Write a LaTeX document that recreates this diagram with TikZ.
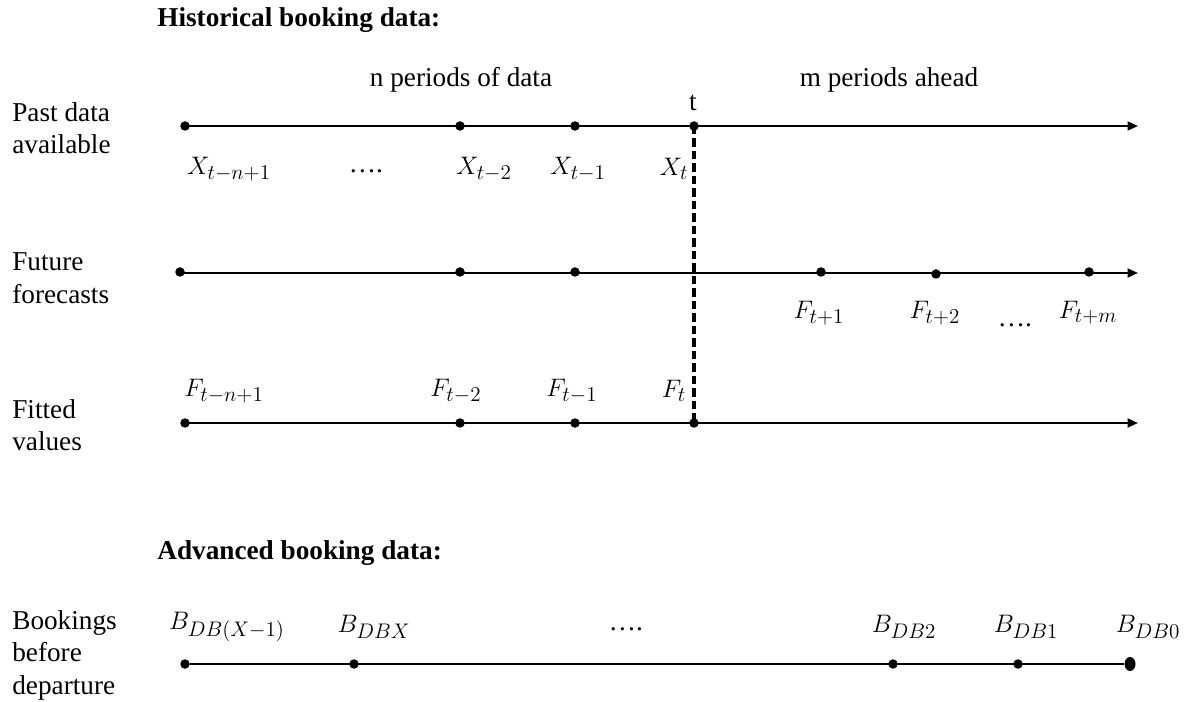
\documentclass[tikz,border=0pt]{standalone}
\usepackage{fontspec}
\setmainfont{Liberation Serif}
\DeclareMathSizes{15.5}{15}{11.5}{9}
\usetikzlibrary{arrows.meta,positioning,shapes.geometric}

\tikzset{
  dot/.style={circle,fill=black,inner sep=0pt,minimum size=0.19cm},
  bigdot/.style={ellipse,fill=black,inner sep=0pt,minimum width=0.22cm,minimum height=0.28cm},
  axis/.style={line width=1.1pt,-{Triangle[length=0.21cm,width=0.18cm]}},
  plain/.style={line width=1.1pt},
  cut/.style={line width=1.8pt,dash pattern=on 0.17cm off 0.08cm},
  rowname/.style={anchor=west,align=left,inner sep=0pt,font=\fontsize{15.5}{18.5}\selectfont},
  lbl/.style={inner sep=0pt,font=\fontsize{15.5}{18.5}\selectfont},
  head/.style={anchor=west,inner sep=0pt,font=\fontsize{15.5}{18.5}\selectfont\bfseries},
}

\begin{document}
\begin{tikzpicture}[x=0.02cm,y=-0.02cm]
\path[use as bounding box] (0,0) rectangle (1190,702);

% headings
\node[head] (hist) at (157,20) {Historical\ booking\ data:};
\node[head] (adv) at (157,553) {Advanced\ booking\ data:};
\node[lbl] (nper) at (461,80) {n periods\ of data};
\node[lbl] (mper) at (889,80) {m periods\ ahead};

% row names
\node[rowname] (rpast) at (12,128) {Past data\\available};
\node[rowname] (rfut) at (12,278) {Future\\forecasts};
\node[rowname] (rfit) at (12,425) {Fitted\\values};
\node[rowname] (rbook) at (12,655) {Bookings\\before\\departure};

% axes
\coordinate (ax0) at (185,126);
\coordinate (ax1) at (1138,126);
\coordinate (fc0) at (180,273);
\coordinate (fc1) at (1138,273);
\coordinate (fv0) at (185,423);
\coordinate (fv1) at (1138,423);
\draw[axis] (ax0) -- (ax1);
\draw[axis] (fc0) -- (fc1);
\draw[axis] (fv0) -- (fv1);

% past data available
\node[dot] (x1) at (185,126) {};
\node[dot] (x2) at (460,126) {};
\node[dot] (x3) at (575,126) {};
\node[dot] (x4) at (694,126) {};
\node[lbl] (tlab) at (693,103) {t};
\node[lbl] (lx1) at (229,169) {$X_{t-n+1}$};
\node[lbl] (ldx) at (366,171) {\dots.};
\node[lbl] (lx2) at (484,169) {$X_{t-2}$};
\node[lbl] (lx3) at (578,169) {$X_{t-1}$};
\node[lbl] (lx4) at (674,169) {$X_t$};

% future forecasts
\node[dot] (f1) at (180,272) {};
\node[dot] (f2) at (460,272) {};
\node[dot] (f3) at (575,272) {};
\node[dot] (f5) at (821,272) {};
\node[dot] (f6) at (936,274) {};
\node[dot] (f7) at (1089,272) {};
\node[lbl] (lf5) at (819,313) {$F_{t+1}$};
\node[lbl] (lf6) at (935,313) {$F_{t+2}$};
\node[lbl] (ldf) at (1015,325) {\dots.};
\node[lbl] (lf7) at (1088,313) {$F_{t+m}$};

% fitted values
\node[dot] (v1) at (185,423) {};
\node[dot] (v2) at (460,423) {};
\node[dot] (v3) at (575,423) {};
\node[dot] (v4) at (694,423) {};
\node[lbl] (lv1) at (224,391) {$F_{t-n+1}$};
\node[lbl] (lv2) at (456,391) {$F_{t-2}$};
\node[lbl] (lv3) at (572,391) {$F_{t-1}$};
\node[lbl] (lv4) at (674,391) {$F_t$};

\draw[cut] (x4.center) -- (v4.center);

% bookings before departure
\node[dot] (b1) at (185,664) {};
\node[dot] (b2) at (354,664) {};
\node[dot] (b3) at (893,664) {};
\node[dot] (b4) at (1018,664) {};
\node[bigdot] (b5) at (1130,664) {};
\draw[plain] (b1) -- (b5);
\node[lbl] (lb1) at (227,627) {$B_{DB(X-1)}$};
\node[lbl] (lb2) at (374,627) {$B_{DBX}$};
\node[lbl] (ldb) at (626,629) {\dots.};
\node[lbl] (lb3) at (904,627) {$B_{DB2}$};
\node[lbl] (lb4) at (1026,627) {$B_{DB1}$};
\node[lbl] (lb5) at (1148,627) {$B_{DB0}$};
\end{tikzpicture}
\end{document}
